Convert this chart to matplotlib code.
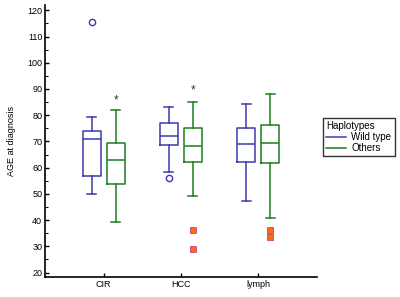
import matplotlib
matplotlib.use("Agg")
import matplotlib.pyplot as plt
from matplotlib.ticker import MultipleLocator
from matplotlib.lines import Line2D

plt.rcParams['font.family'] = ['Liberation Sans', 'DejaVu Sans']

categories = ["CIR", "HCC", "lymph"]
groups = ["Wild type", "Others"]

# Box statistics: [CIR, HCC, lymph]
wild_whislo = [50.1, 58.2, 47.3]
wild_q1 = [56.8, 68.7, 62.0]
wild_med = [71.0, 72.0, 69.0]
wild_q3 = [74.0, 77.0, 75.0]
wild_whishi = [79.2, 83.1, 84.3]
wild_out = [[115.4], [55.9], []]

oth_whislo = [39.2, 49.1, 40.7]
oth_q1 = [53.9, 62.3, 61.6]
oth_med = [62.8, 68.3, 69.5]
oth_q3 = [69.3, 75.0, 76.4]
oth_whishi = [82.0, 85.1, 88.0]
oth_out = [[], [], []]
oth_far = [[], [36.4, 28.8], [36.4, 33.5]]

star_y = [85.5, 89.3, None]

blue = "#3a3aad"
green = "#1e7d1e"
orange = "#ff6a10"

fig = plt.figure(figsize=(4.0, 2.97), dpi=100)
ax = fig.add_axes([0.1125, 0.0673, 0.792 - 0.1125, 0.983 - 0.0673])

off = 0.155
w = 0.235

def stats(lo, q1, med, q3, hi, fl):
    return [dict(whislo=a, q1=b, med=c, q3=d, whishi=e, fliers=f)
            for a, b, c, d, e, f in zip(lo, q1, med, q3, hi, fl)]

for st, color, sign in [
    (stats(wild_whislo, wild_q1, wild_med, wild_q3, wild_whishi, wild_out), blue, -1),
    (stats(oth_whislo, oth_q1, oth_med, oth_q3, oth_whishi, oth_out), green, 1),
]:
    pos = [i + sign * off for i in range(len(categories))]
    lp = dict(color=color, linewidth=1.1)
    ax.bxp(st, positions=pos, widths=w, showfliers=True,
           boxprops=lp, medianprops=lp, whiskerprops=lp, capprops=lp,
           flierprops=dict(marker='o', markersize=4.5, markerfacecolor='none',
                           markeredgecolor=color, markeredgewidth=1.0),
           manage_ticks=False)

for i, vals in enumerate(oth_far):
    for v in vals:
        ax.plot(i + off, v, marker='s', markersize=5, markerfacecolor=orange,
                markeredgecolor='#c04090', markeredgewidth=0.6, linestyle='none')

for i, y in enumerate(star_y):
    if y is not None:
        ax.text(i + off, y, "*", ha='center', va='center', fontsize=8.5, color='#333333')

ax.set_xlim(-0.76, 2.76)
ax.set_ylim(18.3, 122)
ax.set_xticks(range(len(categories)))
ax.set_xticklabels(categories)
ax.yaxis.set_major_locator(MultipleLocator(10))
ax.yaxis.set_minor_locator(MultipleLocator(5))
ax.set_yticks(range(20, 121, 10))
ax.tick_params(axis='both', direction='in', labelsize=6.5, width=1, length=3, pad=2)
ax.tick_params(axis='y', which='minor', direction='in', length=2, width=0.8)
ax.tick_params(axis='x', which='minor', bottom=False)
ax.spines['top'].set_visible(False)
ax.spines['right'].set_visible(False)
for s in ['left', 'bottom']:
    ax.spines[s].set_linewidth(1.2)
ax.set_ylabel("AGE at diagnosis", fontsize=6.5, labelpad=8)

handles = [Line2D([], [], color=blue, linewidth=1.1),
           Line2D([], [], color=green, linewidth=1.1)]
leg = fig.legend(handles, groups, title="Haplotypes", loc='upper left',
                 bbox_to_anchor=(322.7 / 400, 1 - 117.7 / 297),
                 fontsize=7, title_fontsize=7, frameon=True, fancybox=False,
                 edgecolor='black', handlelength=2.0, borderpad=0.35,
                 labelspacing=0.1, handletextpad=0.6, borderaxespad=0)
leg._legend_box.align = "left"
leg.get_frame().set_linewidth(1.0)

fig.savefig("out.png", dpi=100)
